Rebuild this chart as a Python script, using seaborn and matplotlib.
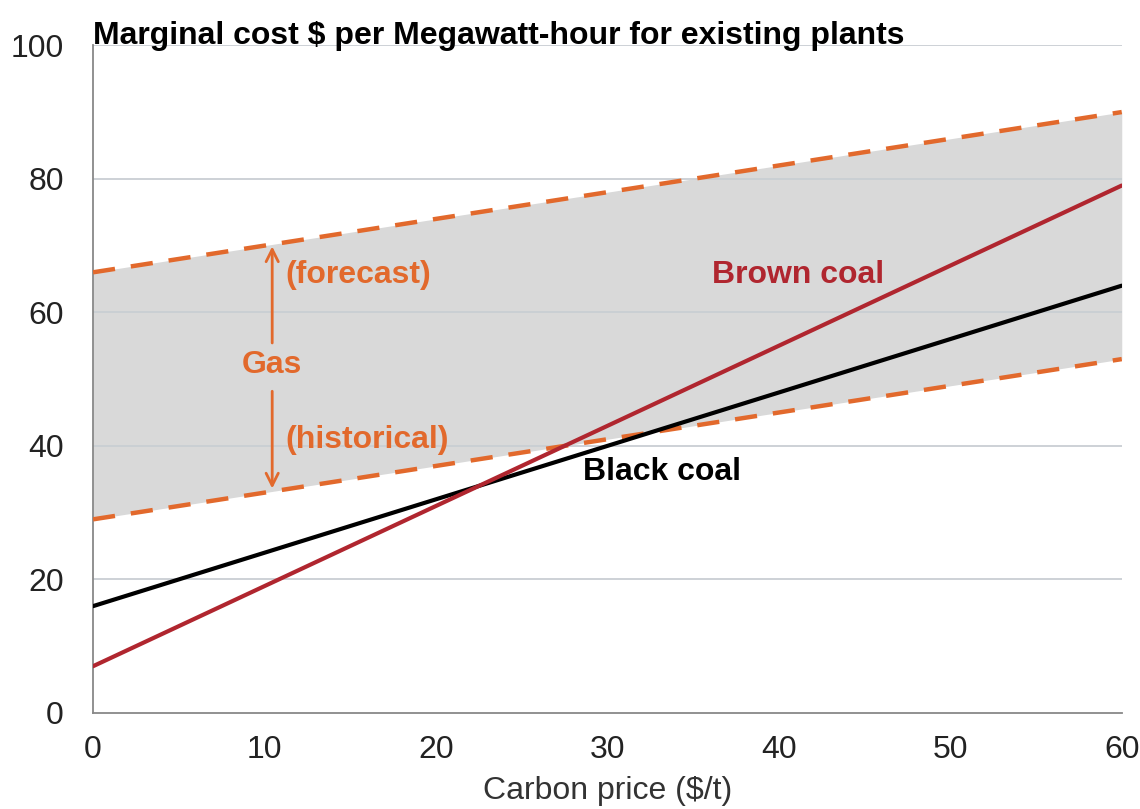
import numpy as np
import pandas as pd
import matplotlib
matplotlib.use("Agg")
import matplotlib.pyplot as plt
import seaborn as sns

carbon_price = [0, 60]
gas_forecast = [66, 90]
gas_historical = [29, 53]
black_coal = [16, 64]
brown_coal = [7, 79]

x_ticks = [0, 10, 20, 30, 40, 50, 60]
y_ticks = [0, 20, 40, 60, 80, 100]

orange = "#E2692C"
red = "#B0262F"

sns.set_style("white")
plt.rcParams["font.family"] = ["Liberation Sans", "DejaVu Sans"]

fig = plt.figure(figsize=(11.4, 8.09), dpi=100)
ax = fig.add_axes([0.0816, 0.1187, 0.9024, 0.8253])

df = pd.DataFrame({
    "carbon": carbon_price,
    "gas_hi": gas_forecast,
    "gas_lo": gas_historical,
    "black": black_coal,
    "brown": brown_coal,
})

ax.fill_between(df["carbon"], df["gas_lo"], df["gas_hi"], color="#D9D9D9", lw=0, zorder=1)
for y in y_ticks[1:]:
    ax.axhline(y, color="#C9CED3", lw=1.3, zorder=2)

dash = (0, (5, 3.6))
sns.lineplot(data=df, x="carbon", y="gas_hi", ax=ax, color=orange, lw=3.2,
             linestyle=dash, zorder=3)
sns.lineplot(data=df, x="carbon", y="gas_lo", ax=ax, color=orange, lw=3.2,
             linestyle=dash, zorder=3)
sns.lineplot(data=df, x="carbon", y="black", ax=ax, color="black", lw=3.0, zorder=4)
sns.lineplot(data=df, x="carbon", y="brown", ax=ax, color=red, lw=3.0, zorder=5)

ax.set_xlim(0, 60)
ax.set_ylim(0, 100)
ax.set_xticks(x_ticks)
ax.set_yticks(y_ticks)
ax.tick_params(axis="both", labelsize=23, colors="#222222", length=8, width=1.2,
               color="#888888")
ax.tick_params(axis="x", pad=8)
ax.tick_params(axis="y", pad=13)
for s in ["top", "right"]:
    ax.spines[s].set_visible(False)
for s in ["left", "bottom"]:
    ax.spines[s].set_color("#888888")
    ax.spines[s].set_linewidth(1.3)

ax.set_xlabel("Carbon price ($/t)", fontsize=23, color="#333333", labelpad=8)
ax.set_ylabel("")
ax.set_title("Marginal cost $ per Megawatt-hour for existing plants", fontsize=23,
             fontweight="bold", color="black", loc="left", pad=1)

# gas range annotation
ax.annotate("", xy=(10.45, 70.3), xytext=(10.45, 55), zorder=6,
            arrowprops=dict(arrowstyle="->", color=orange, lw=2, mutation_scale=22))
ax.annotate("", xy=(10.45, 33.2), xytext=(10.45, 48.6), zorder=6,
            arrowprops=dict(arrowstyle="->", color=orange, lw=2, mutation_scale=22))
ax.text(10.45, 52.1, "Gas", color=orange, fontsize=23, fontweight="bold",
        ha="center", va="center", zorder=6)
ax.text(11.2, 65.6, "(forecast)", color=orange, fontsize=23, fontweight="bold",
        ha="left", va="center", zorder=6)
ax.text(11.2, 40.9, "(historical)", color=orange, fontsize=23, fontweight="bold",
        ha="left", va="center", zorder=6)
ax.text(36.1, 65.6, "Brown coal", color=red, fontsize=23, fontweight="bold",
        ha="left", va="center", zorder=6)
ax.text(28.6, 36.1, "Black coal", color="black", fontsize=23, fontweight="bold",
        ha="left", va="center", zorder=6)

fig.savefig("out.png", dpi=100)
